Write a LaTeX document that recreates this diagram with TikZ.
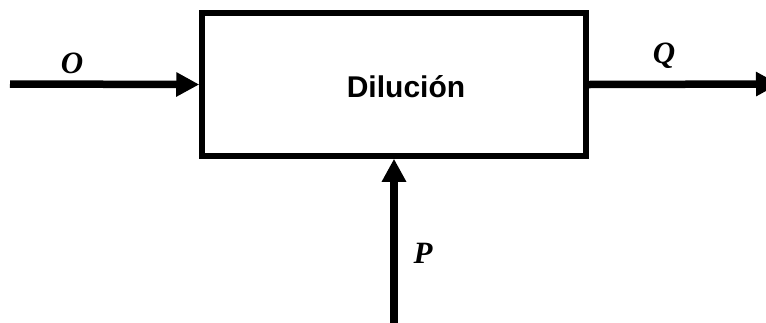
\documentclass[tikz,border=0pt]{standalone}
\usepackage{fontspec}
\setmainfont{Liberation Serif}
\setsansfont{Liberation Sans}
\usetikzlibrary{arrows.meta,positioning}

\begin{document}
\begin{tikzpicture}[x=1pt, y=-1pt, >={Triangle[length=23pt,width=23pt]},
  flow/.style={->, line width=7.5pt},
  var/.style={anchor=base, inner sep=0pt, font=\fontsize{31}{36}\selectfont\bfseries\itshape}]
\clip (0,0) rectangle (766,322);
\node[draw, line width=5.5pt, minimum width=384pt, minimum height=143pt] (dil) at (394,84.5) {};
\node[anchor=base, inner sep=0pt, font=\fontsize{30}{36}\selectfont\sffamily\bfseries] (lbl) at (406,97) {Dilución};
\coordinate (inO) at (10,84);
\coordinate (outQ) at (779,84);
\coordinate (inP) at (394,330);
\draw[flow] (inO) -- (dil.west);
\draw[flow] (dil.east) -- (outQ);
\draw[flow] (inP) -- (dil.south);
\node[var] (O) at (72,73) {O};
\node[var] (Q) at (664,63) {Q};
\node[var] (P) at (423,263) {P};
\end{tikzpicture}
\end{document}
